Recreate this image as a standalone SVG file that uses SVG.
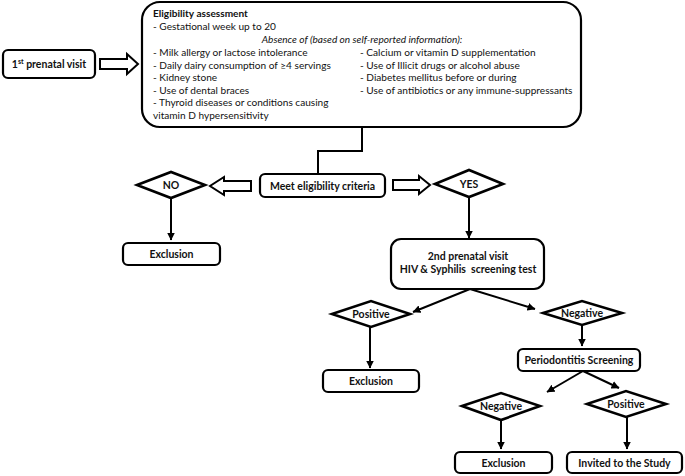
<svg xmlns="http://www.w3.org/2000/svg" width="685" height="476" viewBox="0 0 685 476">
<defs>
<style>
.box{fill:#fff;stroke:#000;stroke-width:2.2}
.dia{fill:#fff;stroke:#000;stroke-width:2.6;stroke-linejoin:miter}
.hol{fill:#fff;stroke:#000;stroke-width:2}
.ln{fill:none;stroke:#000;stroke-width:2}
.t{font-family:Lato,"Liberation Sans",sans-serif;font-size:10.1px;fill:#111}
.b{font-family:Lato,"Liberation Sans",sans-serif;font-size:10.5px;font-weight:bold;fill:#111;text-anchor:middle}
</style>
<marker id="ah" viewBox="0 0 8 8" refX="7.5" refY="4" markerWidth="4" markerHeight="4" orient="auto" markerUnits="strokeWidth">
<path d="M0,0 L8,4 L0,8 Z" fill="#000"/>
</marker>
</defs>
<rect width="685" height="476" fill="#fff"/>

<g id="first-visit">
<rect class="box" x="3" y="50" width="92" height="28" rx="5"/>
<text class="b" x="49" y="68">1<tspan font-size="7" dy="-4">st</tspan><tspan dy="4"> prenatal visit</tspan></text>
</g>

<g id="eligibility">
<rect class="box" x="142" y="2" width="439" height="125" rx="18"/>
<text class="t" x="153" y="17" font-weight="bold" font-size="11">Eligibility assessment</text>
<text class="t" x="153" y="30">- Gestational week up to 20</text>
<text class="t" x="362" y="43" font-style="italic" text-anchor="middle">Absence of (based on self-reported information):</text>
<text class="t" x="153" y="56">- Milk allergy or lactose intolerance</text>
<text class="t" x="153" y="68.5">- Daily dairy consumption of ≥4 servings</text>
<text class="t" x="153" y="81">- Kidney stone</text>
<text class="t" x="153" y="93.5">- Use of dental braces</text>
<text class="t" x="153" y="106">- Thyroid diseases or conditions causing</text>
<text class="t" x="153" y="118.5">vitamin D hypersensitivity</text>
<text class="t" x="360" y="56">- Calcium or vitamin D supplementation</text>
<text class="t" x="360" y="68.5">- Use of Illicit drugs or alcohol abuse</text>
<text class="t" x="360" y="81">- Diabetes mellitus before or during</text>
<text class="t" x="360" y="93.5">- Use of antibiotics or any immune-suppressants</text>
</g>

<g id="meet">
<rect class="box" x="260" y="174" width="125" height="23" rx="5"/>
<text class="b" x="322.5" y="190">Meet eligibility criteria</text>
</g>

<g id="no">
<polygon class="dia" points="137,185 171,172 205,185 171,198"/>
<text class="b" x="171" y="189">NO</text>
</g>

<g id="yes">
<polygon class="dia" points="435,184 469,170 503,184 469,197"/>
<text class="b" x="469" y="188">YES</text>
</g>

<g id="exclusion1">
<rect class="box" x="123" y="243" width="97" height="22" rx="5"/>
<text class="b" x="171.5" y="258">Exclusion</text>
</g>

<g id="second-visit">
<rect class="box" x="391" y="239" width="153" height="50" rx="10"/>
<text class="b" x="468" y="260">2nd prenatal visit</text>
<text class="b" x="468" y="273" xml:space="preserve">HIV &amp; Syphilis  screening test</text>
</g>

<g id="positive1">
<polygon class="dia" points="332,314 371,301 410,314 371,327"/>
<text class="b" x="371" y="318">Positive</text>
</g>

<g id="negative1">
<polygon class="dia" points="543,313 582,301 622,313 582,325"/>
<text class="b" x="582" y="317">Negative</text>
</g>

<g id="exclusion2">
<rect class="box" x="323" y="370" width="96" height="22" rx="5"/>
<text class="b" x="371" y="385">Exclusion</text>
</g>

<g id="perio">
<rect class="box" x="518" y="349" width="122" height="22" rx="5"/>
<text class="b" x="579" y="364">Periodontitis Screening</text>
</g>

<g id="negative2">
<polygon class="dia" points="462,406 501,393 540,406 501,420"/>
<text class="b" x="501" y="410">Negative</text>
</g>

<g id="positive2">
<polygon class="dia" points="587,404 626,391 666,404 626,417"/>
<text class="b" x="626" y="408">Positive</text>
</g>

<g id="exclusion3">
<rect class="box" x="455" y="452" width="97" height="21" rx="5"/>
<text class="b" x="503.5" y="467">Exclusion</text>
</g>

<g id="invited">
<rect class="box" x="567" y="452" width="115" height="21" rx="5"/>
<text class="b" x="624.5" y="467">Invited to the Study</text>
</g>

<g id="connectors">
<polygon class="hol" points="100,59 127,59 127,54 138,64 127,74 127,69 100,69"/>
<polyline class="ln" points="362,127 362,151 318,151 318,174"/>
<polygon class="hol" points="251,181 224,181 224,177 210,186 224,195 224,191 251,191"/>
<polygon class="hol" points="393,180 419,180 419,176 430,185 419,194 419,190 393,190"/>
<line class="ln" x1="171" y1="198" x2="171" y2="240" marker-end="url(#ah)"/>
<line class="ln" x1="469" y1="197" x2="469" y2="238" marker-end="url(#ah)"/>
<line class="ln" x1="470" y1="289" x2="413" y2="312" stroke-width="1.6" marker-end="url(#ah)"/>
<line class="ln" x1="470" y1="289" x2="535" y2="309" stroke-width="1.6" marker-end="url(#ah)"/>
<line class="ln" x1="370" y1="327" x2="370" y2="368" marker-end="url(#ah)"/>
<line class="ln" x1="582" y1="325" x2="582" y2="346" marker-end="url(#ah)"/>
<line class="ln" x1="583" y1="371" x2="547" y2="392" stroke-width="1.6" marker-end="url(#ah)"/>
<line class="ln" x1="583" y1="371" x2="619" y2="388" stroke-width="1.6" marker-end="url(#ah)"/>
<line class="ln" x1="501" y1="420" x2="501" y2="449" marker-end="url(#ah)"/>
<line class="ln" x1="627" y1="417" x2="627" y2="449" marker-end="url(#ah)"/>
</g>
</svg>
